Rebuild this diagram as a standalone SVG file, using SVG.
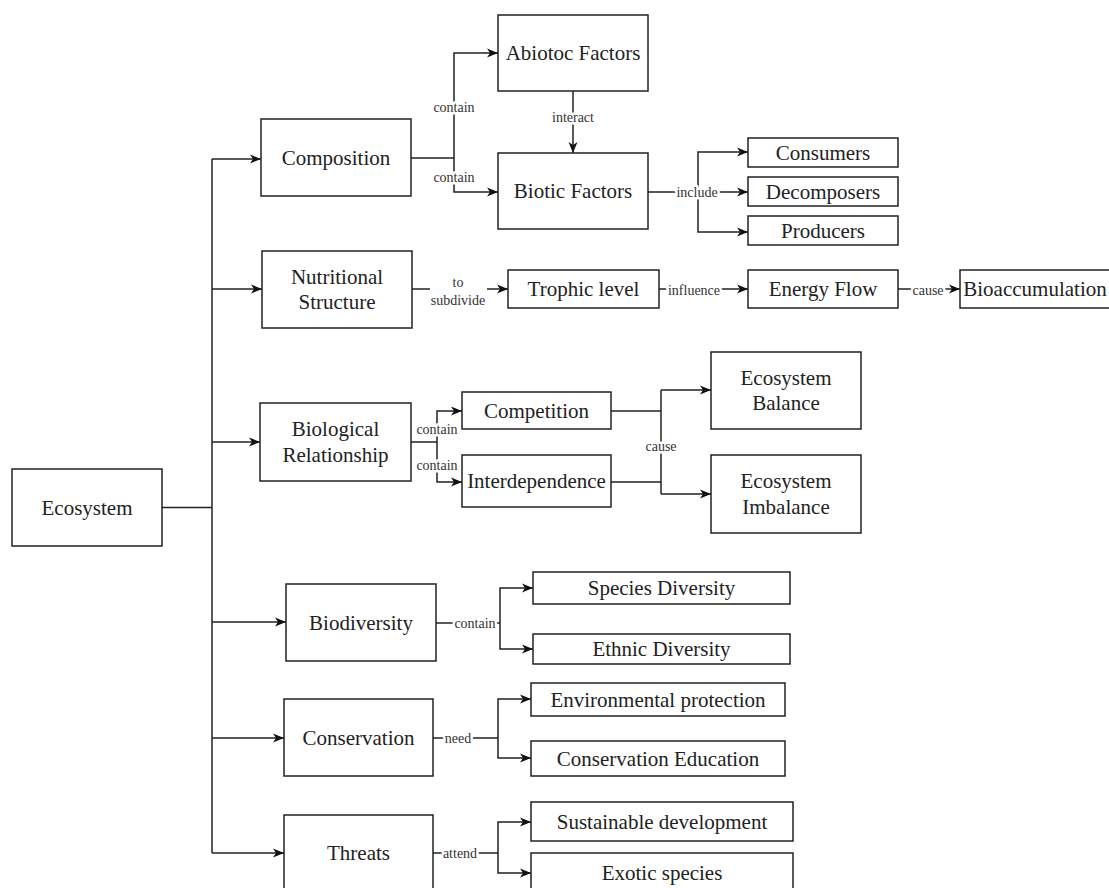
<svg xmlns="http://www.w3.org/2000/svg" width="1109" height="888" viewBox="0 0 1109 888" font-family="'Liberation Serif', 'Times New Roman', 'DejaVu Serif', serif">
<style>
.n rect{fill:#fff;stroke:#222;stroke-width:1.5}
.n text{font-family:'Liberation Serif','Times New Roman','DejaVu Serif',serif;font-size:21px;fill:#222;text-anchor:middle;dominant-baseline:central}
.c path{fill:none;stroke:#222;stroke-width:1.5}
.c path.a{marker-end:url(#arr)}
.lbl{font-family:'Liberation Serif','Times New Roman','DejaVu Serif',serif;font-size:14px;fill:#333;text-anchor:middle;dominant-baseline:central;paint-order:stroke;stroke:#fff;stroke-width:5px;stroke-linejoin:round}
</style>
<defs>
<marker id="arr" markerUnits="userSpaceOnUse" markerWidth="13" markerHeight="11" refX="12" refY="5.5" orient="auto">
<path d="M1,1 L12,5.5 L1,10 L4,5.5 z" fill="#111"/>
</marker>
</defs>
<rect width="1109" height="888" fill="#fff"/>
<g class="c" id="connectors">
<path d="M162,507.5 H212"/>
<path d="M212,159 V853"/>
<path class="a" d="M212,159 H261"/>
<path class="a" d="M212,289 H262"/>
<path class="a" d="M212,442 H260"/>
<path class="a" d="M212,622 H286"/>
<path class="a" d="M212,738 H284"/>
<path class="a" d="M212,853 H284"/>
<path d="M411,158 H454"/>
<path class="a" d="M454,158 V53 H498"/>
<path class="a" d="M454,158 V192 H498"/>
<path class="a" d="M573,91 V153"/>
<path class="a" d="M648,192 H748"/>
<path class="a" d="M698,192 V152 H748"/>
<path class="a" d="M698,192 V232 H748"/>
<path class="a" d="M412,289 H508"/>
<path class="a" d="M659,289 H748"/>
<path class="a" d="M898,289 H960"/>
<path d="M411,442 H437"/>
<path class="a" d="M437,442 V411 H462"/>
<path class="a" d="M437,442 V482 H462"/>
<path d="M611,411 H661"/>
<path d="M611,482 H661"/>
<path d="M661,390 V494"/>
<path class="a" d="M661,390 H711"/>
<path class="a" d="M661,494 H711"/>
<path d="M436,623 H500"/>
<path class="a" d="M500,623 V588 H533"/>
<path class="a" d="M500,623 V649 H533"/>
<path d="M433,738 H498"/>
<path class="a" d="M498,738 V699 H531"/>
<path class="a" d="M498,738 V758 H531"/>
<path d="M433,853 H498"/>
<path class="a" d="M498,853 V822 H531"/>
<path class="a" d="M498,853 V873 H531"/>
<text class="lbl" x="454" y="107">contain</text>
<text class="lbl" x="454" y="177">contain</text>
<text class="lbl" x="573" y="117">interact</text>
<text class="lbl" x="697" y="192">include</text>
<rect x="430" y="274" width="57" height="34" fill="#fff"/>
<text class="lbl" x="458" y="282">to</text>
<text class="lbl" x="458" y="300">subdivide</text>
<text class="lbl" x="694" y="290">influence</text>
<text class="lbl" x="928" y="290">cause</text>
<text class="lbl" x="437" y="429">contain</text>
<text class="lbl" x="437" y="465">contain</text>
<text class="lbl" x="661" y="446">cause</text>
<text class="lbl" x="475" y="623">contain</text>
<text class="lbl" x="458" y="738">need</text>
<text class="lbl" x="460" y="853">attend</text>
</g>
<g class="n" id="ecosystem"><rect x="12" y="469" width="150" height="77"/><text x="87" y="507.5">Ecosystem</text></g>
<g class="n" id="composition"><rect x="261" y="119" width="150" height="77"/><text x="336" y="158">Composition</text></g>
<g class="n" id="abiotic"><rect x="498" y="15" width="150" height="76"/><text x="573" y="53">Abiotoc Factors</text></g>
<g class="n" id="biotic"><rect x="498" y="153" width="150" height="76"/><text x="573" y="191">Biotic Factors</text></g>
<g class="n" id="consumers"><rect x="748" y="138" width="150" height="29"/><text x="823" y="152.5">Consumers</text></g>
<g class="n" id="decomposers"><rect x="748" y="177" width="150" height="29"/><text x="823" y="191.5">Decomposers</text></g>
<g class="n" id="producers"><rect x="748" y="216" width="150" height="29"/><text x="823" y="230.5">Producers</text></g>
<g class="n" id="nutritional"><rect x="262" y="251" width="150" height="77"/><text x="337" y="277">Nutritional</text><text x="337" y="302">Structure</text></g>
<g class="n" id="trophic"><rect x="508" y="270" width="151" height="38"/><text x="583.5" y="289">Trophic level</text></g>
<g class="n" id="energy"><rect x="748" y="270" width="150" height="38"/><text x="823" y="289">Energy Flow</text></g>
<g class="n" id="bioaccumulation"><rect x="960" y="270" width="150" height="38"/><text x="1035" y="289">Bioaccumulation</text></g>
<g class="n" id="biorel"><rect x="260" y="403" width="151" height="78"/><text x="335.5" y="429">Biological</text><text x="335.5" y="455">Relationship</text></g>
<g class="n" id="competition"><rect x="462" y="392" width="149" height="37"/><text x="536.5" y="410.5">Competition</text></g>
<g class="n" id="interdependence"><rect x="462" y="455" width="149" height="52"/><text x="536.5" y="481">Interdependence</text></g>
<g class="n" id="balance"><rect x="711" y="352" width="150" height="77"/><text x="786" y="378">Ecosystem</text><text x="786" y="403">Balance</text></g>
<g class="n" id="imbalance"><rect x="711" y="455" width="150" height="78"/><text x="786" y="481">Ecosystem</text><text x="786" y="507">Imbalance</text></g>
<g class="n" id="biodiversity"><rect x="286" y="584" width="150" height="77"/><text x="361" y="622.5">Biodiversity</text></g>
<g class="n" id="species"><rect x="533" y="572" width="257" height="32"/><text x="661.5" y="588">Species Diversity</text></g>
<g class="n" id="ethnic"><rect x="533" y="634" width="257" height="30"/><text x="661.5" y="649">Ethnic Diversity</text></g>
<g class="n" id="conservation"><rect x="284" y="699" width="149" height="77"/><text x="358.5" y="737.5">Conservation</text></g>
<g class="n" id="envprot"><rect x="531" y="683" width="254" height="33"/><text x="658" y="699.5">Environmental protection</text></g>
<g class="n" id="consed"><rect x="531" y="741" width="254" height="35"/><text x="658" y="758.5">Conservation Education</text></g>
<g class="n" id="threats"><rect x="284" y="815" width="149" height="78"/><text x="358.5" y="853">Threats</text></g>
<g class="n" id="sustdev"><rect x="531" y="802" width="262" height="39"/><text x="662" y="821.5">Sustainable development</text></g>
<g class="n" id="exotic"><rect x="531" y="853" width="262" height="40"/><text x="662" y="873">Exotic species</text></g>
</svg>
